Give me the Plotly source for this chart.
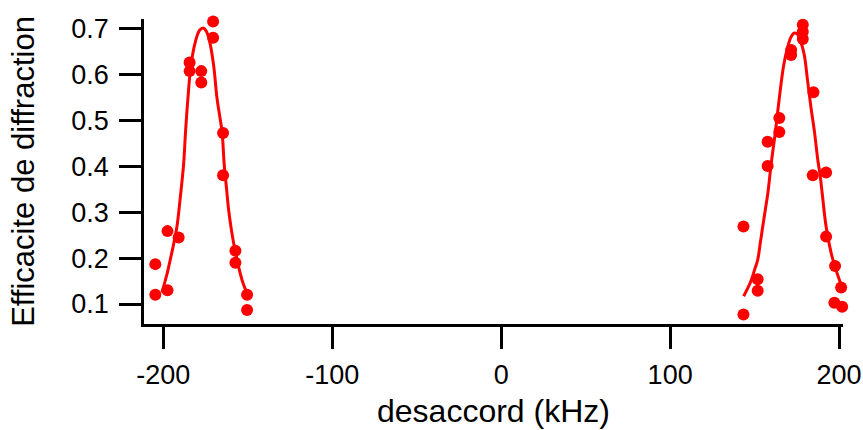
import plotly.graph_objects as go

# Measured points (detuning in kHz, diffraction efficiency)
left_x = [-204.7, -204.7, -197.5, -197.5, -190.9, -184.4, -184.4, -177.5, -177.5,
          -170.5, -170.5, -164.6, -164.6, -157.3, -157.3, -150.4, -150.4]
left_y = [0.187, 0.120, 0.259, 0.130, 0.245, 0.627, 0.608, 0.608, 0.583,
          0.716, 0.681, 0.473, 0.381, 0.216, 0.190, 0.120, 0.087]

right_x = [143.4, 143.4, 151.8, 151.8, 157.7, 157.7, 164.6, 164.6, 171.6, 171.6,
           178.5, 178.5, 178.5, 184.8, 184.4, 192.3, 192.3, 197.6, 197.2, 201.2, 201.8]
right_y = [0.269, 0.077, 0.154, 0.129, 0.454, 0.401, 0.506, 0.475, 0.654, 0.643,
           0.709, 0.694, 0.678, 0.562, 0.381, 0.387, 0.247, 0.183, 0.103, 0.136, 0.094]

# Fitted curves
fit_left_x = [-200.8, -199.8, -197.8, -195.9, -193.9, -191.9, -190.0, -188.0, -186.8,
              -185.4, -183.6, -181.0, -178.5, -176.3, -174.5, -172.5, -170.2, -168.2,
              -166.6, -165.2, -163.9, -162.5, -161.3, -159.8, -158.3, -156.8, -155.4,
              -153.0, -150.4]
fit_left_y = [0.125, 0.138, 0.165, 0.196, 0.230, 0.269, 0.330, 0.403, 0.476,
              0.549, 0.621, 0.672, 0.697, 0.702, 0.695, 0.672, 0.621, 0.549,
              0.510, 0.476, 0.403, 0.350, 0.305, 0.265, 0.232, 0.205, 0.181,
              0.148, 0.123]

fit_right_x = [143.5, 146.0, 148.0, 150.0, 151.8, 153.3, 154.8, 156.3, 157.8, 159.7,
               161.0, 162.3, 164.6, 167.2, 169.6, 171.6, 173.5, 175.5, 177.5, 179.4,
               181.4, 183.4, 185.4, 187.4, 188.8, 190.0, 192.3, 195.3, 198.2, 201.6]
fit_right_y = [0.117, 0.135, 0.152, 0.175, 0.196, 0.232, 0.269, 0.305, 0.341, 0.403,
               0.440, 0.476, 0.549, 0.621, 0.661, 0.683, 0.691, 0.688, 0.670, 0.643,
               0.585, 0.527, 0.476, 0.414, 0.380, 0.341, 0.269, 0.211, 0.174, 0.138]

x_ticks = [-200, -100, 0, 100, 200]
x_tick_labels = ["-200", "-100", "0", "100", "200"]
y_ticks = [0.1, 0.2, 0.3, 0.4, 0.5, 0.6, 0.7]
y_tick_labels = ["0.1", "0.2", "0.3", "0.4", "0.5", "0.6", "0.7"]

RED = "#ff0000"
FONT = "Liberation Sans, Arial, sans-serif"

fig = go.Figure()
for fx, fy in [(fit_left_x, fit_left_y), (fit_right_x, fit_right_y)]:
    fig.add_trace(go.Scatter(x=fx, y=fy, mode="lines", line=dict(color=RED, width=3, shape="spline"),
                             showlegend=False, hoverinfo="skip"))
for px, py in [(left_x, left_y), (right_x, right_y)]:
    fig.add_trace(go.Scatter(x=px, y=py, mode="markers", marker=dict(color=RED, size=12),
                             cliponaxis=False, showlegend=False))

axis_common = dict(showline=True, linecolor="black", linewidth=2.5, ticks="outside",
                   ticklen=22, tickwidth=2.5, tickcolor="black", showgrid=False,
                   zeroline=False, automargin=False,
                   tickfont=dict(size=27, color="black", family=FONT))

# plot area in page px: x 144..843, y 19..324 (page body margin removed below)
fig.update_layout(
    width=863, height=430,
    margin=dict(l=144, r=20, t=19, b=106),
    plot_bgcolor="white", paper_bgcolor="white",
    font=dict(family=FONT, color="black"),
    hovermode=False,
    xaxis=dict(range=[-211.4, 202.3], tickvals=x_ticks, ticktext=x_tick_labels,
               ticklabelstandoff=3,
               title=dict(text="desaccord (kHz)", font=dict(size=32), standoff=11),
               **axis_common),
    yaxis=dict(range=[0.0564, 0.7217], tickvals=y_ticks, ticktext=y_tick_labels,
               ticklabelstandoff=5,
               title=dict(text="Efficacite de diffraction", font=dict(size=31), standoff=28),
               **axis_common),
)

fig.write_html("out.html", config={"displayModeBar": False},
               post_script="document.body.style.margin='0';document.body.style.overflow='hidden';")
